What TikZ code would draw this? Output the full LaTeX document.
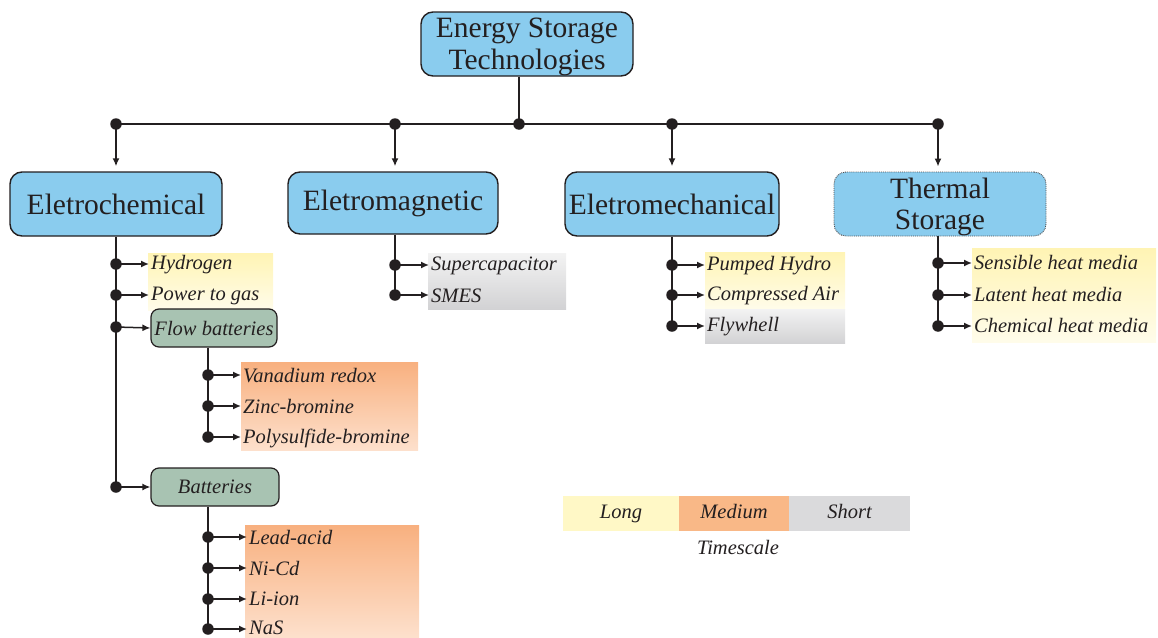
\documentclass[tikz,border=0pt]{standalone}
\usepackage{fontspec}
\setmainfont{Liberation Serif}
\usetikzlibrary{arrows.meta}
\definecolor{ink}{HTML}{231F20}
\definecolor{bluebox}{HTML}{8ACCEE}
\definecolor{greenbox}{HTML}{A8C3B2}
\definecolor{ylw}{HTML}{FFF8C6}
\definecolor{ylwtop}{HTML}{FFF4B4}
\definecolor{ylwbot}{HTML}{FFFCEA}
\definecolor{org}{HTML}{F9B887}
\definecolor{orgtop}{HTML}{F8B07F}
\definecolor{orgbot}{HTML}{FDE0CC}
\definecolor{gry}{HTML}{DADADC}
\definecolor{grytop}{HTML}{F3F3F3}
\definecolor{grybot}{HTML}{D2D2D4}
\tikzset{
  every node/.style={text=ink},
  conn/.style={draw=ink, line width=1.5pt},
  arr/.style={conn, -{Latex[length=8pt,width=7pt]}},
  dot/.style={circle, fill=ink, inner sep=0pt, minimum size=11.5pt},
  mainbox/.style={draw=ink, line width=1.4pt, fill=bluebox, rounded corners=12pt,
    minimum width=212pt, minimum height=64pt, align=center,
    font=\fontsize{29.5}{31}\selectfont},
  subbox/.style={draw=ink, line width=1.2pt, fill=greenbox, rounded corners=8pt,
    minimum height=38pt, font=\fontsize{20.5}{22}\selectfont\itshape},
  leaf/.style={anchor=west, inner sep=2pt, text height=14pt, text depth=4pt,
    font=\fontsize{20.5}{22}\selectfont\itshape},
  legbox/.style={minimum height=35pt, inner sep=0pt, text height=14pt, text depth=4pt,
    font=\fontsize{20.5}{22}\selectfont\itshape}
}
\begin{document}
\begin{tikzpicture}[x=1pt,y=-1pt]
\useasboundingbox (0,0) rectangle (1158,637);

% backgrounds
\shade[top color=ylwtop, bottom color=ylwbot] (148,253) rectangle (273,310);
\shade[top color=orgtop, bottom color=orgbot] (241,362) rectangle (418,450);
\shade[top color=orgtop, bottom color=orgbot] (245,525) rectangle (419,637);
\shade[top color=grytop, bottom color=grybot] (428,253) rectangle (566,309);
\shade[top color=ylwtop, bottom color=ylwbot] (705,252) rectangle (845,309);
\shade[top color=grytop, bottom color=grybot] (705,309) rectangle (845,343);
\shade[top color=ylwtop, bottom color=ylwbot] (972,248) rectangle (1156,342);

% root and main boxes
\node[mainbox, font=\fontsize{29.5}{32}\selectfont, text depth=-1pt] (root) at (527,44) {Energy Storage\\Technologies};
\node[mainbox] (elec) at (116,204) {Eletrochemical};
\node[mainbox, minimum width=210pt, minimum height=62pt] (emag) at (393,203) {Eletromagnetic};
\node[mainbox, minimum width=214pt] (emech) at (672,204) {Eletromechanical};
\node[mainbox, draw=ink!80, line width=0.9pt, densely dotted, text depth=-2pt] (therm) at (940,204) {Thermal\\Storage};

% top junctions
\node[dot] (dr) at (519,124) {};
\node[dot] (da) at (116,124) {};
\node[dot] (db) at (395,124) {};
\node[dot] (dc) at (672,124) {};
\node[dot] (dd) at (938,124) {};
\draw[conn] (da.center) -- (dd.center);
\draw[conn] (root.south -| dr) -- (dr.center);
\draw[arr, shorten >=5pt] (da.center) -- (elec.north);
\draw[arr, shorten >=5pt] (db.center) -- (emag.north -| db);
\draw[arr, shorten >=5pt] (dc.center) -- (emech.north);
\draw[arr, shorten >=5pt] (dd.center) -- (therm.north -| dd);

% Eletrochemical branch
\node[dot] (e1) at (116,264) {};
\node[dot] (e2) at (116,295) {};
\node[dot] (e3) at (116,327) {};
\node[dot] (e4) at (116,487) {};
\draw[conn] (elec.south) -- (e4.center);
\node[leaf] (hyd) at (149,264) {Hydrogen};
\node[leaf] (ptg) at (149,295) {Power to gas};
\node[subbox, minimum width=126pt] (flow) at (214,328) {Flow batteries};
\node[subbox, minimum width=128pt] (batt) at (215,487) {Batteries};
\draw[arr] (e1.center) -- (hyd.west);
\draw[arr] (e2.center) -- (ptg.west);
\draw[arr] (e3.center) -- (flow.west);
\draw[arr] (e4.center) -- (batt.west);

% Flow batteries
\node[dot] (f1) at (208,375) {};
\node[dot] (f2) at (208,406) {};
\node[dot] (f3) at (208,437) {};
\draw[conn] (flow.south -| f1) -- (f3.center);
\node[leaf] (van) at (241,377) {Vanadium redox};
\node[leaf] (zinc) at (241,408) {Zinc-bromine};
\node[leaf] (poly) at (241,438) {Polysulfide-bromine};
\draw[arr] (f1.center) -- (f1 -| van.west);
\draw[arr] (f2.center) -- (f2 -| zinc.west);
\draw[arr] (f3.center) -- (f3 -| poly.west);

% Batteries
\node[dot] (b1) at (208,537) {};
\node[dot] (b2) at (208,568) {};
\node[dot] (b3) at (208,599) {};
\node[dot] (b4) at (208,629) {};
\draw[conn] (batt.south -| b1) -- (b4.center);
\node[leaf] (lead) at (247,539) {Lead-acid};
\node[leaf] (nicd) at (247,570) {Ni-Cd};
\node[leaf] (liion) at (247,600) {Li-ion};
\node[leaf] (nas) at (247,629) {NaS};
\draw[arr] (b1.center) -- (b1 -| lead.west);
\draw[arr] (b2.center) -- (b2 -| nicd.west);
\draw[arr] (b3.center) -- (b3 -| liion.west);
\draw[arr] (b4.center) -- (b4 -| nas.west);

% Eletromagnetic branch
\node[dot] (m1) at (395,265) {};
\node[dot] (m2) at (395,295) {};
\draw[conn] (emag.south -| m1) -- (m2.center);
\node[leaf] (sup) at (429,265) {Supercapacitor};
\node[leaf] (smes) at (429,297) {SMES};
\draw[arr] (m1.center) -- (m1 -| sup.west);
\draw[arr] (m2.center) -- (m2 -| smes.west);

% Eletromechanical branch
\node[dot] (c1) at (672,265) {};
\node[dot] (c2) at (672,295) {};
\node[dot] (c3) at (672,326) {};
\draw[conn] (emech.south) -- (c3.center);
\node[leaf] (pump) at (705,265) {Pumped Hydro};
\node[leaf] (comp) at (705,295) {Compressed Air};
\node[leaf] (fly) at (705,326) {Flywhell};
\draw[arr] (c1.center) -- (c1 -| pump.west);
\draw[arr] (c2.center) -- (c2 -| comp.west);
\draw[arr] (c3.center) -- (c3 -| fly.west);

% Thermal branch
\node[dot] (t1) at (938,263) {};
\node[dot] (t2) at (938,295) {};
\node[dot] (t3) at (938,326) {};
\draw[conn] (therm.south -| t1) -- (t3.center);
\node[leaf] (sens) at (972,264) {Sensible heat media};
\node[leaf] (lat) at (972,296) {Latent heat media};
\node[leaf] (chem) at (972,327) {Chemical heat media};
\draw[arr] (t1.center) -- (t1 -| sens.west);
\draw[arr] (t2.center) -- (t2 -| lat.west);
\draw[arr] (t3.center) -- (t3 -| chem.west);

% Legend
\node[legbox, fill=ylw, minimum width=116pt] (long) at (621,513) {Long};
\node[legbox, fill=org, minimum width=110pt] (med) at (734,513) {Medium};
\node[legbox, fill=gry, minimum width=121pt] (short) at (849.5,513) {Short};
\node[inner sep=0pt, font=\fontsize{20.5}{22}\selectfont\itshape] (tscale) at (738,547) {Timescale};
\end{tikzpicture}
\end{document}
